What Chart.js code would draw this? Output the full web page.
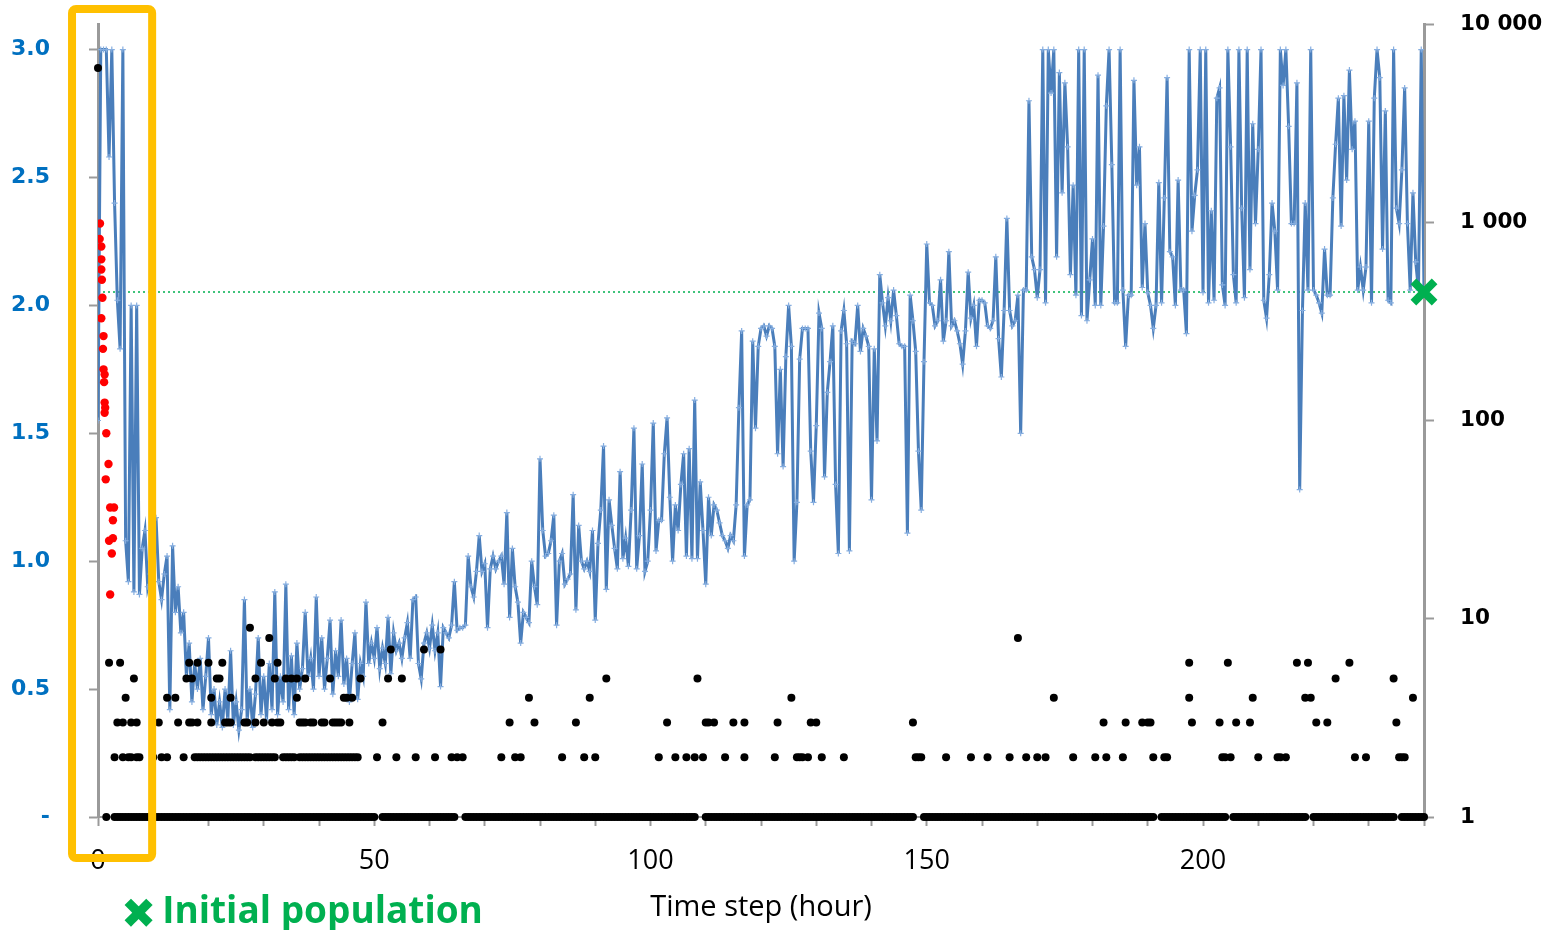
<!DOCTYPE html>
<html>
<head>
<meta charset="utf-8">
<script src="https://cdn.jsdelivr.net/npm/chart.js@4.4.1/dist/chart.umd.min.js"></script>
<style>
    html, body { margin: 0; padding: 0; background: #fff; overflow: hidden; }
    #wrap { position: relative; width: 1550px; height: 930px; }
    #legend { position: absolute; left: 121px; top: 890px; font: 700 37px 'Open Sans', sans-serif; line-height: 37px; color: #00b050; white-space: nowrap; }
    #legend .mark { font-family: 'DejaVu Sans', sans-serif; font-size: 42px; vertical-align: -5px; margin-right: 6px; }
</style>
</head>
<body>
<div id="wrap">
    <canvas id="chart" width="1550" height="930"></canvas>
    <div id="legend"></div>
</div>
<script>
const _ = null;

// time axis: one reading every half hour, 0 .. 240 h
const STEP = 0.5;
const xTickLabels = [0, 50, 100, 150, 200];
const leftTicks = [0, 0.5, 1.0, 1.5, 2.0, 2.5, 3.0];
const rightTicks = [1, 10, 100, 1000, 10000];

// blue series (left axis), rows of 10 hours
const blueValues = [
    1.55, 3.0, 3.0, 3.0, 2.58, 3.0, 2.4, 2.02, 1.83, 3.0, 1.08, 0.92, 2.0, 0.88, 2.0, 0.87, 1.05, 1.12, 0.9, 0.95,
    1.0, 1.17, 0.92, 0.85, 0.95, 1.02, 0.42, 1.06, 0.8, 0.9, 0.72, 0.8, 0.55, 0.68, 0.45, 0.6, 0.5, 0.62, 0.42, 0.55,
    0.7, 0.4, 0.5, 0.36, 0.45, 0.35, 0.5, 0.38, 0.65, 0.36, 0.45, 0.34, 0.42, 0.85, 0.38, 0.5, 0.35, 0.48, 0.7, 0.4,
    0.55, 0.38, 0.6, 0.42, 0.88, 0.4, 0.55, 0.45, 0.91, 0.42, 0.63, 0.4, 0.68, 0.5, 0.58, 0.8, 0.55, 0.62, 0.5, 0.86,
    0.55, 0.7, 0.5, 0.62, 0.77, 0.48, 0.65, 0.55, 0.77, 0.52, 0.62, 0.45, 0.6, 0.72, 0.46, 0.6, 0.55, 0.84, 0.6, 0.68,
    0.62, 0.74, 0.58, 0.66, 0.6, 0.78, 0.56, 0.72, 0.65, 0.68, 0.62, 0.7, 0.76, 0.62, 0.85, 0.86, 0.6, 0.54, 0.68, 0.72,
    0.66, 0.75, 0.65, 0.72, 0.51, 0.74, 0.72, 0.7, 0.75, 0.92, 0.73, 0.74, 0.74, 0.75, 1.02, 0.9, 0.86, 0.96, 1.1, 0.96,
    0.99, 0.74, 0.97, 1.02, 0.97, 1.0, 1.02, 0.91, 1.19, 0.78, 1.05, 0.9, 0.84, 0.68, 0.8, 0.78, 0.76, 1.0, 0.9, 0.83,
    1.4, 1.12, 1.02, 1.03, 1.08, 1.18, 0.75, 1.0, 1.03, 0.91, 0.93, 0.95, 1.26, 0.81, 1.14, 1.0, 0.97, 1.0, 0.96, 1.12,
    0.77, 1.07, 1.2, 1.45, 0.89, 1.24, 1.14, 1.05, 0.97, 1.35, 1.01, 1.09, 0.98, 1.2, 1.52, 0.97, 1.1, 1.38, 0.96, 1.0,
    1.2, 1.54, 1.04, 1.16, 1.16, 1.42, 1.56, 1.25, 1.0, 1.22, 1.12, 1.3, 1.42, 1.02, 1.44, 1.01, 1.63, 1.01, 1.31, 1.12,
    0.91, 1.25, 1.1, 1.22, 1.2, 1.15, 1.1, 1.08, 1.05, 1.1, 1.08, 1.22, 1.6, 1.9, 1.02, 1.22, 1.24, 1.86, 1.52, 1.84,
    1.91, 1.92, 1.88, 1.92, 1.91, 1.84, 1.42, 1.75, 1.37, 1.8, 2.0, 1.84, 1.0, 1.23, 1.79, 1.91, 1.91, 1.91, 1.43, 1.23,
    1.53, 1.97, 1.91, 1.33, 1.66, 1.78, 1.92, 1.3, 1.03, 1.9, 1.98, 1.85, 1.04, 1.86, 1.85, 2.0, 1.82, 1.91, 1.88, 1.84,
    1.24, 1.83, 1.47, 2.12, 2.01, 1.92, 2.03, 1.94, 2.06, 1.96, 1.85, 1.84, 1.84, 1.11, 2.04, 1.94, 1.82, 1.43, 1.2, 1.78,
    2.24, 2.01, 2.0, 1.92, 1.94, 2.1, 1.86, 1.94, 2.21, 1.92, 1.94, 1.9, 1.85, 1.77, 1.9, 2.13, 1.95, 2.0, 1.84, 2.02,
    2.02, 2.01, 1.92, 1.91, 1.94, 2.19, 1.87, 1.72, 1.98, 2.34, 1.98, 1.92, 1.94, 2.04, 1.5, 2.06, 2.06, 2.8, 2.19, 2.14,
    2.03, 2.14, 3.0, 2.01, 3.0, 2.83, 3.0, 2.19, 2.91, 2.44, 2.87, 2.62, 2.12, 2.47, 2.04, 3.0, 1.96, 3.0, 1.94, 2.1,
    2.26, 2.0, 2.9, 2.0, 2.31, 2.78, 3.0, 2.55, 2.01, 2.01, 3.0, 2.06, 1.84, 2.04, 2.04, 2.88, 2.47, 2.62, 2.07, 2.32,
    2.05, 2.0, 1.91, 2.0, 2.48, 2.01, 2.42, 2.89, 2.21, 2.19, 2.0, 2.49, 2.06, 2.06, 1.89, 3.0, 2.29, 2.43, 2.53, 3.0,
    2.05, 3.0, 2.01, 2.37, 2.02, 2.81, 2.85, 2.08, 2.0, 3.0, 2.62, 2.12, 2.01, 3.0, 2.38, 2.03, 3.0, 2.14, 2.71, 2.32,
    2.61, 3.0, 2.02, 1.95, 2.12, 2.4, 2.29, 2.06, 3.0, 2.86, 3.0, 2.7, 2.32, 2.32, 2.87, 1.28, 1.98, 2.4, 2.06, 3.0,
    2.06, 2.04, 2.01, 1.97, 2.22, 2.04, 2.04, 2.42, 2.63, 2.81, 2.31, 2.82, 2.49, 2.92, 2.61, 2.72, 2.06, 2.15, 2.06, 2.15,
    2.72, 2.01, 2.81, 3.0, 2.89, 2.22, 2.76, 2.02, 2.01, 3.0, 2.38, 2.32, 2.53, 2.85, 2.32, 2.06, 2.44, 2.17, 2.06, 3.0,
    2.05
];

// red points (left axis), first hours only
const redTimes  = [0.36, 0.3, 0.6, 0.6, 0.6, 0.7, 0.8, 0.6, 1.0, 0.9, 1.0, 1.2, 1.1, 1.2, 1.3, 1.2, 1.5, 1.9, 1.4, 2.2, 2.9, 2.7, 2.0, 2.7, 2.5, 2.2];
const redValues = [2.32, 2.26, 2.23, 2.18, 2.14, 2.10, 2.03, 1.95, 1.88, 1.83, 1.75, 1.73, 1.70, 1.62, 1.60, 1.58, 1.50, 1.38, 1.32, 1.21, 1.21, 1.16, 1.08, 1.09, 1.03, 0.87];

// black points (right log axis): count of 1 at each half hour
const blackOnes = [
    _,_,_,1,_,_,1,1,1,1,1,1,1,1,1,1,1,1,1,1,
    1,1,1,1,1,1,1,1,1,1,1,1,1,1,1,1,1,1,1,1,
    1,1,1,1,1,1,1,1,1,1,1,1,1,1,1,1,1,1,1,1,
    1,1,1,1,1,1,1,1,1,1,1,1,1,1,1,1,1,1,1,1,
    1,1,1,1,1,1,1,1,1,1,1,1,1,1,1,1,1,1,1,1,
    1,_,_,1,1,1,1,1,1,1,1,1,1,1,1,1,1,1,1,1,
    1,1,1,1,1,1,1,1,1,1,_,_,_,1,1,1,1,1,1,1,
    1,1,1,1,1,1,1,1,1,1,1,1,1,1,1,1,1,1,1,1,
    1,1,1,1,1,1,1,1,1,1,1,1,1,1,1,1,1,1,1,1,
    1,1,1,1,1,1,1,1,1,1,1,1,1,1,1,1,1,1,1,1,
    1,1,1,1,1,1,1,1,1,1,1,1,1,1,1,1,1,_,_,_,
    1,1,1,1,1,1,1,1,1,1,1,1,1,1,1,1,1,1,1,1,
    1,1,1,1,1,1,1,1,1,1,1,1,1,1,1,1,1,1,1,1,
    1,1,1,1,1,1,1,1,1,1,1,1,1,1,1,1,1,1,1,1,
    1,1,1,1,1,1,1,1,1,1,1,1,1,1,1,1,_,_,_,1,
    1,1,1,1,1,1,1,1,1,1,1,1,1,1,1,1,1,1,1,1,
    1,1,1,1,1,1,1,1,1,1,1,1,1,1,1,1,1,1,1,1,
    1,1,1,1,1,1,1,1,1,1,1,1,1,1,1,1,1,1,1,1,
    1,1,1,1,1,1,1,1,1,1,1,1,1,1,1,1,1,1,1,1,
    1,1,1,_,_,1,1,1,1,1,1,1,1,1,1,1,1,1,1,1,
    1,1,1,1,1,1,1,1,1,_,_,1,1,1,1,1,1,1,1,1,
    1,1,1,1,1,1,1,1,1,1,1,1,1,1,1,1,1,1,_,_,
    1,1,1,1,1,1,1,1,1,1,1,1,1,1,1,1,1,1,1,1,
    1,1,1,1,1,1,1,1,1,1,_,_,1,1,1,1,1,1,1,1,
    1
];

// black points above 1: hours at which each count occurs
const blackTimes2 = [3, 4.5, 5.5, 6, 7, 7.5, 10, 11.5, 12.5, 15.5,
    17.5, 18, 18.5, 19, 19.5, 20, 20.5, 21, 21.5, 22, 22.5, 23, 23.5, 24, 24.5, 25, 25.5, 26, 26.5, 27, 27.5,
    28.5, 29, 29.5, 30, 30.5, 31, 31.5, 32, 33.5, 34, 34.5, 35, 35.5,
    36.5, 37, 37.5, 38, 38.5, 39, 39.5, 40, 40.5, 41, 41.5, 42, 42.5, 43, 43.5, 44, 44.5, 45, 45.5, 46, 46.5, 47,
    50.5, 54, 57.5, 61, 64, 65, 66, 73, 75.5, 76.5, 84, 88, 90, 101.5, 104.5, 106.5, 108, 109.5, 113.5, 117,
    122.5, 126.5, 127, 127.5, 128.5, 131, 135, 148, 148.5, 149, 153.5, 158, 161, 165, 168, 170, 171.5,
    176.5, 180.5, 182.5, 185.5, 191, 193, 193.5, 203.5, 204, 205, 210, 213.5, 214, 215, 227.5, 229.5, 235.5, 236, 236.5];
const blackTimes3 = [3.5, 4.5, 6, 7, 11, 14.5, 16.5, 17, 18, 20.5, 23, 23.5, 24, 26.5, 27, 28.5, 30, 31.5, 32.5, 33,
    36.5, 37, 37.5, 38.5, 39, 40.5, 41, 42.5, 43, 43.5, 44, 45.5, 51.5, 74.5, 79, 86.5, 103, 110, 110.5, 111.5,
    115, 117, 123, 129, 130, 147.5, 182, 186, 189, 190, 190.5, 198, 203, 206, 208.5, 220.5, 222.5, 235];
const blackTimes4 = [5, 12.5, 14, 20.5, 24, 36, 44.5, 45, 46, 78, 89, 125.5, 173, 197.5, 209, 218.5, 219.5, 238];
const blackTimes5 = [6.5, 16, 17, 21.5, 22, 28.5, 32, 34, 35, 36, 37.5, 42, 47.5, 52.5, 55, 92, 108.5, 224, 234.5];
const blackTimes6 = [2, 4, 16.5, 18, 20, 22.5, 29.5, 32.5, 197.5, 204.5, 217, 219, 226.5];
const blackTimes7 = [53, 59, 62];
const blackTimes8 = [31, 166.5];
const blackTimes9 = [27.5];
const blackStart = { x: 0, y: 6000 };

// initial population (right axis)
const initialPopulation = 445;
const highlightHours = [-4.7, 9.8];

const BLUE = '#4a7ebb';
const GREEN = '#00b050';
const AXIS_GREY = '#9a9a9a';

// axis box sizes so the plot area lands where the original sits
const LEFT_AXIS_W = 86;
const RIGHT_AXIS_W = 118;
const BOTTOM_AXIS_H = 108;

// build point lists
const bluePoints = blueValues.map((v, i) => ({ x: i * STEP, y: v }));
const redPoints = redTimes.map((t, i) => ({ x: t, y: redValues[i] }));
const blackPoints = [blackStart];
blackOnes.forEach((v, i) => { if (v !== null) blackPoints.push({ x: i * STEP, y: v }); });
[[blackTimes2, 2], [blackTimes3, 3], [blackTimes4, 4], [blackTimes5, 5],
 [blackTimes6, 6], [blackTimes7, 7], [blackTimes8, 8], [blackTimes9, 9]].forEach(([times, level]) => {
    times.forEach(t => blackPoints.push({ x: t, y: level }));
});

function spaced(v) {
    return String(v).replace(/\B(?=(\d{3})+(?!\d))/g, ' ');
}

function fixWidth(w) {
    return scale => {
        scale.width = w;
        scale.paddingTop = 0;
        scale.paddingBottom = 0;
    };
}

// orange highlight frame around the first hours
const highlightBox = {
    id: 'highlightBox',
    afterDraw(chart) {
        const { ctx, chartArea, scales: { x } } = chart;
        const left = x.getPixelForValue(highlightHours[0]);
        const right = x.getPixelForValue(highlightHours[1]);
        ctx.save();
        ctx.strokeStyle = '#ffc000';
        ctx.lineWidth = 8;
        ctx.beginPath();
        ctx.roundRect(left, chartArea.top - 15, right - left, chartArea.bottom - chartArea.top + 56, 4);
        ctx.stroke();
        ctx.restore();
    }
};

const chart = new Chart(document.getElementById('chart').getContext('2d'), {
    type: 'scatter',
    data: {
        datasets: [
            {
                label: 'Initial population',
                data: [{ x: 240, y: initialPopulation }],
                yAxisID: 'y1',
                pointStyle: 'crossRot',
                pointRadius: 15,
                pointBorderWidth: 8,
                pointBorderColor: GREEN,
                pointBackgroundColor: GREEN,
                clip: false,
                order: 0
            },
            {
                label: 'Count',
                data: blackPoints,
                yAxisID: 'y1',
                pointRadius: 4,
                pointBackgroundColor: '#000',
                pointBorderWidth: 0,
                clip: false,
                order: 1
            },
            {
                label: 'Early',
                data: redPoints,
                yAxisID: 'y',
                pointRadius: 4.2,
                pointBackgroundColor: '#ff0000',
                pointBorderWidth: 0,
                order: 2
            },
            {
                label: 'Series',
                data: bluePoints,
                yAxisID: 'y',
                showLine: true,
                borderColor: BLUE,
                borderWidth: 3,
                tension: 0,
                pointStyle: 'cross',
                pointRadius: 3,
                pointBorderWidth: 1.2,
                pointBorderColor: '#86aee0',
                order: 3
            },
            {
                label: 'Initial level',
                data: [{ x: 0, y: initialPopulation }, { x: 240, y: initialPopulation }],
                yAxisID: 'y1',
                showLine: true,
                borderColor: GREEN,
                borderWidth: 1.6,
                borderDash: [2, 3],
                pointRadius: 0,
                order: 4
            }
        ]
    },
    options: {
        responsive: false,
        animation: false,
        devicePixelRatio: 1,
        layout: { padding: { left: 12, right: 8, top: 24, bottom: 5 } },
        plugins: {
            legend: { display: false },
            tooltip: { enabled: false }
        },
        scales: {
            x: {
                type: 'linear',
                min: 0,
                max: 240,
                afterFit: scale => {
                    scale.height = BOTTOM_AXIS_H;
                    scale.paddingLeft = 0;
                    scale.paddingRight = 0;
                },
                ticks: {
                    stepSize: 10,
                    autoSkip: false,
                    maxRotation: 0,
                    padding: 19,
                    color: '#000',
                    font: { family: 'Open Sans', size: 27 },
                    callback: v => xTickLabels.includes(v) ? String(v) : ''
                },
                grid: { drawOnChartArea: false, tickLength: 9, tickColor: AXIS_GREY, tickWidth: 2 },
                border: { color: AXIS_GREY, width: 2 },
                title: {
                    display: true,
                    text: 'Time step (hour)',
                    color: '#000',
                    font: { family: 'Open Sans', size: 29 },
                    padding: { top: 6, bottom: 0 }
                }
            },
            y: {
                position: 'left',
                min: 0,
                max: 3.1,
                afterBuildTicks: scale => { scale.ticks = leftTicks.map(v => ({ value: v })); },
                afterFit: fixWidth(LEFT_AXIS_W),
                ticks: {
                    padding: 39,
                    color: '#0070c0',
                    font: { family: 'DejaVu Sans', size: 22, weight: 'bold' },
                    callback: v => v === 0 ? '-' : v.toFixed(1)
                },
                grid: { drawOnChartArea: false, tickLength: 9, tickColor: AXIS_GREY, tickWidth: 2 },
                border: { color: AXIS_GREY, width: 3 }
            },
            y1: {
                type: 'logarithmic',
                position: 'right',
                min: 1,
                max: 10000,
                afterBuildTicks: scale => { scale.ticks = rightTicks.map(v => ({ value: v })); },
                afterFit: fixWidth(RIGHT_AXIS_W),
                ticks: {
                    padding: 26,
                    color: '#000',
                    font: { family: 'DejaVu Sans', size: 21.5, weight: 'bold' },
                    callback: v => spaced(v)
                },
                grid: { drawOnChartArea: false, tickLength: 10, tickColor: AXIS_GREY, tickWidth: 2 },
                border: { color: AXIS_GREY, width: 3 }
            }
        }
    },
    plugins: [highlightBox]
});

// legend entry for the green marker
const legendDs = chart.data.datasets[0];
document.getElementById('legend').innerHTML =
    '<span class="mark">\u2716</span>' + legendDs.label;
</script>
</body>
</html>
